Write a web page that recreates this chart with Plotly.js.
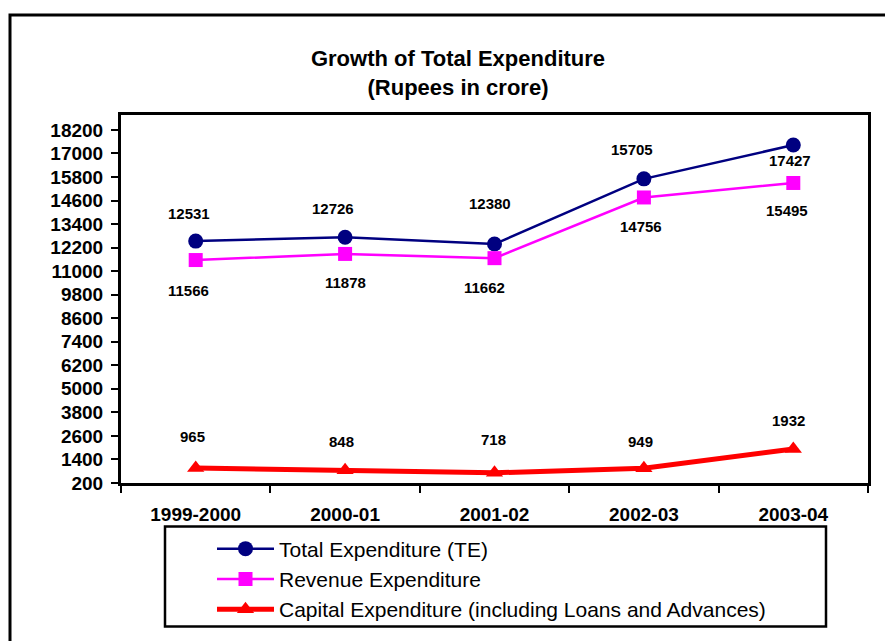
<!DOCTYPE html>
<html>
<head>
<meta charset="utf-8">
<script src="https://cdn.plot.ly/plotly-3.0.1.min.js"></script>
<style>
html,body{margin:0;padding:0;background:#fff;}
#chart{width:885px;height:641px;}
</style>
</head>
<body>
<div id="chart"></div>
<script>
const years = ["1999-2000", "2000-01", "2001-02", "2002-03", "2003-04"];
const totalExp = [12531, 12726, 12380, 15705, 17427];
const revenueExp = [11566, 11878, 11662, 14756, 15495];
const capitalExp = [965, 848, 718, 949, 1932];
const yTicks = [200, 1400, 2600, 3800, 5000, 6200, 7400, 8600, 9800, 11000, 12200, 13400, 14600, 15800, 17000, 18200];

// label offsets (pixels) for each series' data labels
const teShift = [[-7, -28], [-12, -29], [-5, -41], [-12, -29], [-3, 15]];
const reShift = [[-7, 30], [0, 29], [-10, 29], [-3, 29], [-6, 28]];
const ceShift = [[-3, -31], [-4, -29], [-1, -33], [-3, -27], [-5, -29]];

const font = "Arial, 'Liberation Sans', sans-serif";

const traces = [
  {x: years, y: totalExp, name: "Total Expenditure (TE)", type: "scatter", mode: "lines+markers",
   line: {color: "#000080", width: 2.5}, marker: {symbol: "circle", size: 15, color: "#000080"}, legendgroup: "a"},
  {x: years, y: revenueExp, name: "Revenue Expenditure", type: "scatter", mode: "lines+markers",
   line: {color: "#FF00FF", width: 2.5}, marker: {symbol: "square", size: 14, color: "#FF00FF"}, legendgroup: "b"},
  {x: years, y: capitalExp, name: "Capital Expenditure (including Loans and Advances)", type: "scatter", mode: "lines+markers",
   line: {color: "#FF0000", width: 5}, marker: {symbol: "triangle-up", size: 15, color: "#FF0000"}, legendgroup: "c"}
];

const annotations = [];
function addLabels(vals, shifts) {
  vals.forEach((v, i) => {
    annotations.push({x: years[i], y: v, xref: "x", yref: "y", text: String(v), showarrow: false,
      xshift: shifts[i][0], yshift: -shifts[i][1],
      font: {family: font, size: 15, color: "#000", weight: "bold"}});
  });
}
addLabels(totalExp, teShift);
addLabels(revenueExp, reShift);
addLabels(capitalExp, ceShift);

const T = 115, B = 154, L = 121, R = 17;
const PW = 885 - L - R, PH = 641 - T - B;
const px = v => (v - L) / PW;
const py = v => (641 - B - v) / PH;

const layout = {
  width: 885, height: 641,
  margin: {l: L, r: R, t: T, b: B},
  paper_bgcolor: "#fff", plot_bgcolor: "#fff",
  showlegend: true,
  title: {text: "<b>Growth of Total Expenditure<br>(Rupees in crore)</b>", x: 458/885, xanchor: "center",
          y: 1 - 66/641, yanchor: "middle", xref: "container", yref: "container",
          font: {family: font, size: 22, color: "#000"}},
  xaxis: {type: "category", tickson: "boundaries", ticks: "outside", ticklen: 7, tickwidth: 2, tickcolor: "#000",
          showline: true, linecolor: "#000", linewidth: 3, mirror: true, showgrid: false, zeroline: false,
          ticklabelstandoff: 12,
          tickfont: {family: font, size: 19, color: "#000", weight: "bold"}, fixedrange: true, range: [-0.5, 4.5]},
  yaxis: {range: [200, 18960], tickmode: "array", tickvals: yTicks, ticktext: yTicks.map(String),
          ticks: "outside", ticklen: 7, tickwidth: 2, tickcolor: "#000",
          showline: true, linecolor: "#000", linewidth: 3, mirror: true, showgrid: false, zeroline: false,
          ticklabelstandoff: 4,
          tickfont: {family: font, size: 19, color: "#000", weight: "bold"}, fixedrange: true},
  legend: {x: px(212), xref: "paper", y: py(533), yref: "paper", yanchor: "top", xanchor: "left",
           bgcolor: "rgba(0,0,0,0)", borderwidth: 0, itemwidth: 57, tracegroupgap: 3,
           font: {family: font, size: 21, color: "#000"}, traceorder: "normal"},
  annotations: annotations,
  shapes: [
    {type: "rect", xref: "paper", yref: "paper", x0: px(10), x1: px(900), y0: py(14), y1: py(660),
     line: {color: "#000", width: 3}, fillcolor: "rgba(0,0,0,0)", layer: "below"},
    {type: "rect", xref: "paper", yref: "paper", x0: px(165), x1: px(826), y0: py(531), y1: py(632),
     line: {color: "#000", width: 2.5}, fillcolor: "rgba(0,0,0,0)", layer: "below"}
  ]
};

Plotly.newPlot("chart", traces, layout, {displayModeBar: false, staticPlot: true});
</script>
</body>
</html>
